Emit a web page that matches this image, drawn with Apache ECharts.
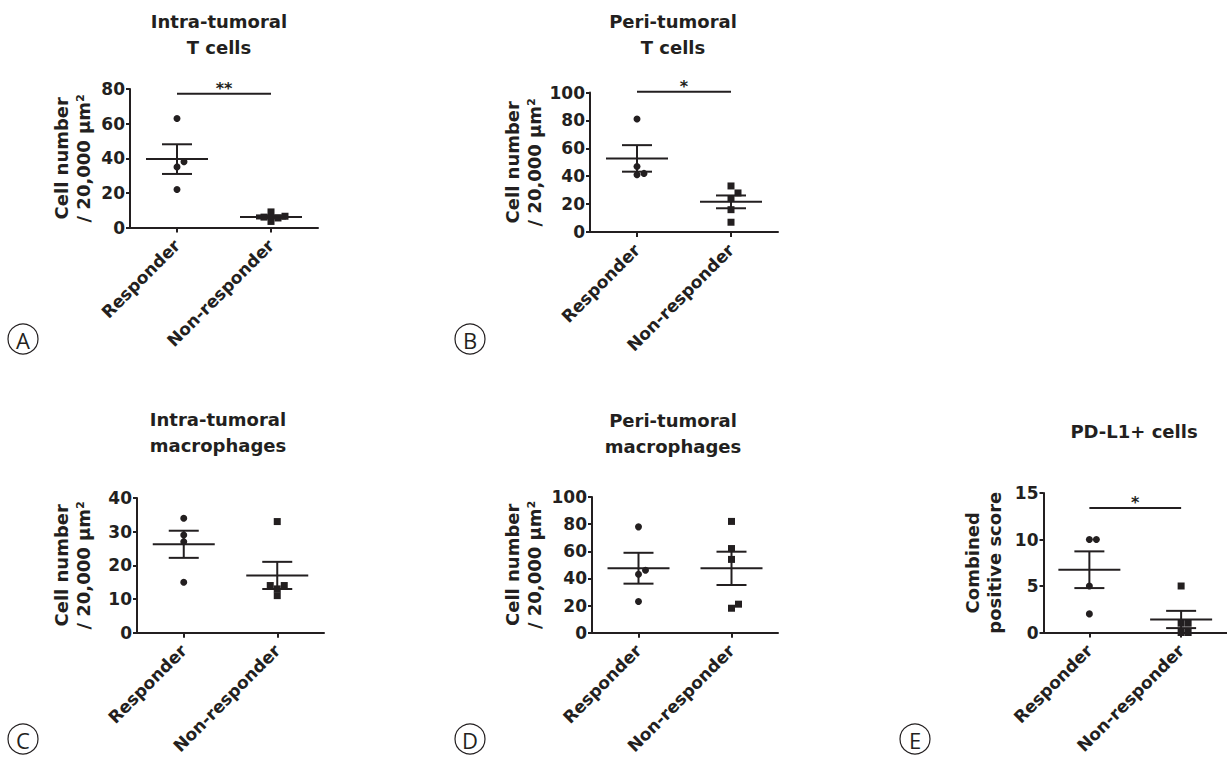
<!DOCTYPE html>
<html><head><meta charset="utf-8">
<script src="https://cdn.jsdelivr.net/npm/echarts@6/dist/echarts.min.js"></script>
<style>html,body{margin:0;padding:0;background:#fff}#c{width:1227px;height:757px}</style>
</head><body><div id="c"></div>
<script>
// ---------- data ----------
const categories = ['Responder', 'Non-responder'];

const titleA = 'Intra-tumoral\nT cells';
const titleB = 'Peri-tumoral\nT cells';
const titleC = 'Intra-tumoral\nmacrophages';
const titleD = 'Peri-tumoral\nmacrophages';
const titleE = 'PD-L1+ cells';

const yNameCells = 'Cell number\n/ 20,000 µm²';
const yNameCps = 'Combined\npositive score';

const aResponder = [63, 38, 35, 22];
const aNonResponder = [9, 5.5, 6.5, 6, 3.5];
const bResponder = [81, 47, 42, 41];
const bNonResponder = [33, 28, 24, 16, 7];
const cResponder = [34, 29, 27, 15];
const cNonResponder = [33, 14, 14, 13, 11];
const dResponder = [78, 46, 43, 23];
const dNonResponder = [82, 62, 54, 18, 21];
const eResponder = [10, 10, 5, 2];
const eNonResponder = [5, 1, 1, 0, 0];

const yTicksA = [0, 20, 40, 60, 80];
const yTicksB = [0, 20, 40, 60, 80, 100];
const yTicksC = [0, 10, 20, 30, 40];
const yTicksD = [0, 20, 40, 60, 80, 100];
const yTicksE = [0, 5, 10, 15];

// significance: [label, bar value]
const sigA = ['**', 77.3];
const sigB = ['*', 100.5];
const sigE = ['*', 13.4];

const panelLetters = ['A', 'B', 'C', 'D', 'E'];

// ---------- layout / style ----------
const ink = '#231f20';
const FONT = '"DejaVu Sans", sans-serif';

const panels = [
  {title: titleA, yName: yNameCells, resp: aResponder, non: aNonResponder, ticks: yTicksA, sig: sigA,
   grid: {left: 130, top: 89, width: 188, height: 138.5}, titleXY: [219, 34], nameGap: 36, badge: [23, 339]},
  {title: titleB, yName: yNameCells, resp: bResponder, non: bNonResponder, ticks: yTicksB, sig: sigB,
   grid: {left: 590, top: 92.5, width: 188, height: 139.5}, titleXY: [673, 34], nameGap: 45, badge: [470, 339]},
  {title: titleC, yName: yNameCells, resp: cResponder, non: cNonResponder, ticks: yTicksC, sig: null,
   grid: {left: 137, top: 498, width: 187, height: 138.5}, titleXY: [218, 432], nameGap: 43, badge: [23, 739]},
  {title: titleD, yName: yNameCells, resp: dResponder, non: dNonResponder, ticks: yTicksD, sig: null,
   grid: {left: 592, top: 497, width: 186, height: 139}, titleXY: [673, 433], nameGap: 47, badge: [470, 739]},
  {title: titleE, yName: yNameCps, resp: eResponder, non: eNonResponder, ticks: yTicksE, sig: sigE,
   grid: {left: 1043.5, top: 493, width: 185, height: 139.5}, titleXY: [1134, 431], nameGap: 38, badge: [915, 739]}
];

function meanSem(arr) {
  const n = arr.length;
  const m = arr.reduce((a, b) => a + b, 0) / n;
  const v = arr.reduce((a, b) => a + (b - m) * (b - m), 0) / (n - 1);
  return [m, Math.sqrt(v / n)];
}

// simple beeswarm: horizontal pixel offsets to avoid overlapping symbols
function swarm(values, pxPerUnit, size, step) {
  const order = values.map((v, i) => i).sort((a, b) => values[a] - values[b]);
  const placed = [];
  const offs = new Array(values.length).fill(0);
  const cands = [0, step, -step, 2 * step, -2 * step, 3 * step, -3 * step];
  order.forEach(i => {
    const y = values[i] * pxPerUnit;
    for (const dx of cands) {
      const hit = placed.some(p => Math.abs(p.y - y) < size && Math.abs(p.x - dx) < size);
      if (!hit) { offs[i] = dx; placed.push({x: dx, y: y}); break; }
    }
  });
  return offs;
}

const grid = [], xAxis = [], yAxis = [], series = [], graphic = [];

panels.forEach((p, k) => {
  const yMin = p.ticks[0], yMax = p.ticks[p.ticks.length - 1];
  const interval = p.ticks[1] - p.ticks[0];
  grid.push(Object.assign({containLabel: false}, p.grid));
  xAxis.push({
    type: 'category', gridIndex: k, data: categories, boundaryGap: true,
    axisLine: {show: true, lineStyle: {color: ink, width: 2}},
    axisTick: {show: true, alignWithLabel: true, length: 5, lineStyle: {color: ink, width: 2}},
    axisLabel: {rotate: 45, margin: 15, color: ink, fontSize: 17, fontWeight: 'bold', fontFamily: FONT, interval: 0},
    splitLine: {show: false}
  });
  yAxis.push({
    type: 'value', gridIndex: k, min: yMin, max: yMax, interval: interval,
    name: p.yName, nameLocation: 'middle', nameRotate: 90, nameGap: p.nameGap, nameMoveOverlap: false,
    nameTextStyle: {color: ink, fontSize: 18, fontWeight: 'bold', fontFamily: FONT, lineHeight: 22},
    axisLine: {show: true, lineStyle: {color: ink, width: 2}},
    axisTick: {show: true, length: 4, lineStyle: {color: ink, width: 2}},
    axisLabel: {margin: 5, color: ink, fontSize: 17, fontWeight: 'bold', fontFamily: FONT},
    splitLine: {show: false}
  });

  const pxPerUnit = p.grid.height / (yMax - yMin);
  const groups = [p.resp, p.non];
  const symbols = ['circle', 'rect'];
  groups.forEach((vals, gi) => {
    const offs = swarm(vals, pxPerUnit, 6, 7);
    series.push({
      type: 'scatter', xAxisIndex: k, yAxisIndex: k, symbol: symbols[gi], symbolSize: 7,
      itemStyle: {color: ink, opacity: 1}, silent: true, z: 2,
      data: vals.map((v, i) => ({value: [gi, v], symbolOffset: [offs[i], 0]}))
    });
  });

  const stats = groups.map((vals, gi) => { const ms = meanSem(vals); return [gi, ms[0], ms[1]]; });
  series.push({
    type: 'custom', xAxisIndex: k, yAxisIndex: k, z: 3, silent: true, data: stats,
    renderItem: function (params, api) {
      const x = api.value(0), m = api.value(1), s = api.value(2);
      const c = api.coord([x, m]), t = api.coord([x, m + s]), b = api.coord([x, m - s]);
      const st = {stroke: ink, lineWidth: 2};
      return {type: 'group', children: [
        {type: 'line', shape: {x1: c[0] - 31, y1: c[1], x2: c[0] + 31, y2: c[1]}, style: st},
        {type: 'line', shape: {x1: t[0] - 15, y1: t[1], x2: t[0] + 15, y2: t[1]}, style: st},
        {type: 'line', shape: {x1: b[0] - 15, y1: b[1], x2: b[0] + 15, y2: b[1]}, style: st},
        {type: 'line', shape: {x1: t[0], y1: t[1], x2: b[0], y2: b[1]}, style: st}
      ]};
    }
  });

  if (p.sig) {
    const label = p.sig[0];
    series.push({
      type: 'custom', xAxisIndex: k, yAxisIndex: k, z: 3, silent: true, clip: false,
      data: [[0, 1, p.sig[1]]],
      renderItem: function (params, api) {
        const a = api.coord([api.value(0), api.value(2)]);
        const b = api.coord([api.value(1), api.value(2)]);
        return {type: 'group', children: [
          {type: 'line', shape: {x1: a[0], y1: a[1], x2: b[0], y2: b[1]}, style: {stroke: ink, lineWidth: 2}},
          {type: 'text', style: {text: label, x: (a[0] + b[0]) / 2, y: a[1] - 5, align: 'center', verticalAlign: 'middle',
            fill: ink, fontSize: 16, fontWeight: 'bold', fontFamily: FONT}}
        ]};
      }
    });
  }

  graphic.push({type: 'text', silent: true, style: {text: p.title, x: p.titleXY[0], y: p.titleXY[1], align: 'center',
    verticalAlign: 'middle', fill: ink, fontSize: 18, fontWeight: 'bold', fontFamily: FONT, lineHeight: 26}});
  graphic.push({type: 'circle', silent: true, shape: {cx: p.badge[0], cy: p.badge[1], r: 15},
    style: {fill: 'none', stroke: ink, lineWidth: 1.2}});
  graphic.push({type: 'text', silent: true, style: {text: panelLetters[k], x: p.badge[0], y: p.badge[1] + 1, align: 'center',
    verticalAlign: 'middle', fill: ink, fontSize: 22, fontWeight: 'normal', fontFamily: '"Open Sans", "Noto Sans", sans-serif'}});
});

const chart = echarts.init(document.getElementById('c'), null, {renderer: 'svg'});
chart.setOption({
  backgroundColor: '#ffffff',
  animation: false,
  grid: grid, xAxis: xAxis, yAxis: yAxis, series: series, graphic: graphic
});
</script>
</body></html>
